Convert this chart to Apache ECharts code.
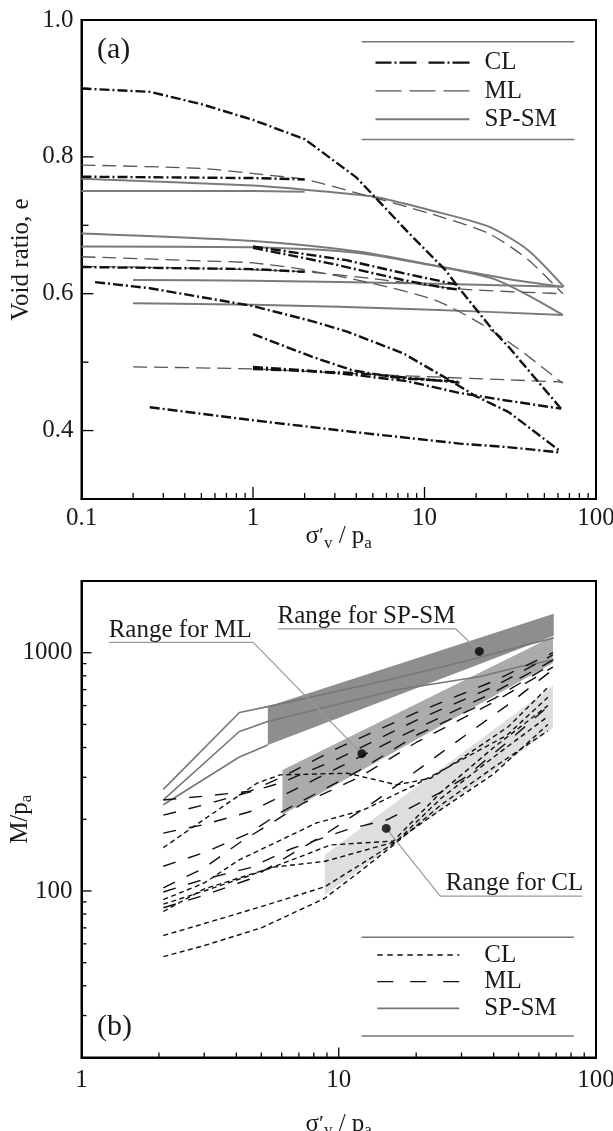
<!DOCTYPE html>
<html><head><meta charset="utf-8">
<script src="https://cdn.jsdelivr.net/npm/echarts@6/dist/echarts.min.js"></script>
<style>html,body{margin:0;padding:0;background:#fff}#c{width:613px;height:1131px}</style>
</head><body><div id="c"></div>
<script>
// ---------- Panel (a): void ratio e vs sigma'v/pa ----------
const aXLabels = [0.1, 1, 10, 100];
const aXMajorTicks = [1, 10];
const aXMinorTicks = [0.2,0.3,0.4,0.5,0.6,0.7,0.8,0.9,2,3,4,5,6,7,8,9,20,30,40,50,60,70,80,90];
const aYLabels = [0.4, 0.6, 0.8, 1.0];
const aYMajorTicks = [0.4, 0.6, 0.8];
const aYMinorTicks = [0.5, 0.7, 0.9];

const aCL1 = [[0.1,0.900],[0.25,0.895],[0.5,0.877],[1,0.854],[2,0.826],[4,0.770],[5.2,0.740],[8,0.690],[13.3,0.634],[15.7,0.610],[25,0.547],[31,0.522],[62.5,0.432]];
const aCL2 = [[0.12,0.617],[0.25,0.608],[0.5,0.595],[1,0.582],[2.2,0.560],[3.5,0.545],[7.5,0.513],[13.5,0.476],[20,0.450],[31,0.427],[62.5,0.369]];
const aCL3 = [[0.25,0.434],[1,0.415],[3.85,0.398],[16,0.381],[30,0.376],[62.5,0.368]];
const aCL4 = [[1,0.493],[2,0.488],[4,0.481],[8,0.472],[16,0.455],[30,0.444],[62.5,0.432]];
const aCL5 = [[1,0.490],[4,0.484],[10,0.475],[16,0.470]];
const aCL6 = [[1,0.541],[2.2,0.508],[3.8,0.488],[7.5,0.476],[15.6,0.472]];
const aCL7 = [[1,0.669],[3.5,0.649],[7.5,0.630],[15.7,0.613]];
const aCL8 = [[1,0.667],[2,0.652],[3.1,0.642],[7.5,0.620],[13.5,0.608],[16,0.606]];
const aCL9 = [[0.1,0.771],[1,0.769],[2,0.767]];
const aCL10 = [[0.1,0.639],[1,0.636],[2,0.632]];

const aML1 = [[0.1,0.788],[0.5,0.783],[1.25,0.773],[2,0.767],[3.8,0.749],[10.8,0.717],[23.7,0.688],[40,0.650],[64,0.600]];
const aML2 = [[0.1,0.654],[0.5,0.648],[1,0.645],[2,0.635],[5,0.615],[11.7,0.590],[21,0.557],[35,0.520],[64,0.469]];
const aML3 = [[0.1,0.640],[0.5,0.637],[2,0.632],[5,0.622],[16,0.607],[64,0.600]];
const aML4 = [[0.2,0.493],[1,0.490],[5,0.482],[31.5,0.474],[64,0.471]];

const aSP1 = [[0.1,0.768],[1,0.758],[2,0.752],[5,0.742],[10.8,0.722],[23.7,0.698],[40,0.664],[65,0.610]];
const aSP2 = [[0.1,0.750],[1,0.750],[2,0.749]];
const aSP3 = [[0.1,0.688],[1,0.677],[4,0.662],[12,0.640],[25,0.622],[40,0.598],[64,0.569]];
const aSP4 = [[0.1,0.669],[1,0.668],[4,0.660],[12,0.640],[30,0.622],[64,0.610]];
const aSP5 = [[0.2,0.620],[1,0.619],[10,0.615],[64,0.610]];
const aSP6 = [[0.2,0.586],[1,0.584],[10,0.577],[64,0.569]];

// ---------- Panel (b): M/pa vs sigma'v/pa ----------
const bXLabels = [1, 10, 100];
const bXMajorTicks = [10];
const bXMinorTicks = [2,3,4,5,6,7,8,9,20,30,40,50,60,70,80,90];
const bYLabels = [100, 1000];
const bYMajorTicks = [100, 1000];
const bYMinorTicks = [30,40,50,60,70,80,90,200,300,400,500,600,700,800,900];

const bCL1 = [[2.08,53],[3,59],[5,70],[8.8,93],[12,120],[16.6,158],[25,230],[40,330],[65,470]];
const bCL2 = [[2.08,65],[3,73],[5,86],[8.8,104],[12,128],[16.6,160],[25,245],[40,365],[65,540]];
const bCL3 = [[2.08,82],[3,102],[5.6,126],[8.8,133],[16.6,161],[25,220],[40,310],[65,500]];
const bCL4 = [[2.08,88],[3,100],[4.4,115],[6,130],[9.3,156],[16.3,162],[25,260],[40,400],[65,600]];
const bCL5 = [[2.08,92],[3,108],[4.1,135],[8.2,193],[12.5,219],[20,280],[30,355],[45,450],[65,650]];
const bCL6 = [[2.08,152],[3,200],[4.8,283],[5.9,307],[10.8,312],[13,298],[16.8,279],[22.7,297],[30,360],[45.7,490],[66,727]];

const bML1 = [[2.08,241],[3,250],[4.5,262],[6,300],[10,400],[20,560],[40,760],[68,1000]];
const bML2 = [[2.08,208],[3,230],[4.5,260],[6,285],[10,360],[20,520],[40,720],[68,980]];
const bML3 = [[2.08,175],[3,190],[4.5,215],[6,250],[10,330],[20,480],[40,680],[68,930]];
const bML4 = [[2.08,127],[3,145],[4.5,175],[6,215],[8.2,257],[12,320],[20,450],[40,640],[68,900]];
const bML5 = [[2.08,103],[3,125],[4.1,159],[7.3,234],[12,300],[20,420],[40,620],[68,870]];
const bML6 = [[2.08,99],[3,112],[4.5,125],[6.5,150],[10.8,181],[15.4,199],[25,260],[31,300],[45,420],[68,620]];
const bML7 = [[2.08,85],[3,96],[4.5,112],[6,135],[9,175],[14,240],[25,380],[45,600],[68,850]];

const bSP1 = [[2.08,267],[4.11,561],[5.3,594],[16.8,783],[30.6,919],[50.9,1063],[68.5,1153]];
const bSP2 = [[2.08,241],[4.11,467],[5.3,514],[16.8,699],[35.5,795],[50.9,876],[68.5,935]];
const bSP3 = [[2.08,230],[4.11,365],[5.3,410]];

const bBandSP = [[5.3,594],[68.5,1459],[68.5,1178],[5.3,410]];
const bBandML = [[6.04,322],[68,1171],[68,905],[6.04,209]];
const bBandCL = [[8.82,141.6],[68,727],[68,483],[8.82,96.2]];

const bDots = [[35.2,1013],[12.3,377],[15.3,183]];
const bLeadSP = [[5.8,1258],[28.5,1258],[35.2,1013]];
const bLeadML = [[1.276,1105],[4.65,1105],[12.3,377]];
const bLeadCL = [[88.4,95.2],[24.8,95.2],[15.3,183]];

// ---------- styles ----------
const FONT = "'Liberation Serif', 'Times New Roman', serif";
const TXT = '#1a1a1a';
const sA = {
  CL: {color:'#111', width:2.4, type:[10,3,2,3], smooth:0},
  ML: {color:'#555', width:1.3, type:[14,7], smooth:0.25},
  SP: {color:'#7a7a7a', width:2.0, type:'solid', smooth:0.25}
};
const sB = {
  CL: {color:'#111', width:1.4, type:[5,3.5]},
  ML: {color:'#111', width:1.4, type:[13,13]},
  SP: {color:'#777', width:1.6, type:'solid'}
};

function line(name, data, st, xi, yi, z) {
  return {type:'line', name, data, xAxisIndex:xi, yAxisIndex:yi, symbol:'none',
    smooth: st.smooth || false, silent:true, z:z||3, animation:false,
    lineStyle:{color:st.color, width:st.width, type:st.type}, itemStyle:{color:st.color}};
}
function band(poly, color, xi, yi) {
  return {type:'custom', xAxisIndex:xi, yAxisIndex:yi, silent:true, z:1, animation:false,
    data:[poly[0]],
    renderItem:(params, api) => ({type:'polygon',
      shape:{points: poly.map(p => api.coord(p))}, style:{fill:color}})};
}
// inward tick marks drawn through the axes' own scales
function xTicks(vals, xi, yi, yBase, len) {
  return {type:'custom', xAxisIndex:xi, yAxisIndex:yi, silent:true, z:8, animation:false, clip:false,
    data: vals.map(v => [v, yBase]),
    renderItem:(params, api) => {
      const p = api.coord([api.value(0), api.value(1)]);
      return {type:'line', shape:{x1:p[0], y1:p[1], x2:p[0], y2:p[1]-len}, style:{stroke:'#000', lineWidth:1.3}};
    }};
}
function yTicks(vals, xi, yi, xBase, len) {
  return {type:'custom', xAxisIndex:xi, yAxisIndex:yi, silent:true, z:8, animation:false, clip:false,
    data: vals.map(v => [xBase, v]),
    renderItem:(params, api) => {
      const p = api.coord([api.value(0), api.value(1)]);
      return {type:'line', shape:{x1:p[0], y1:p[1], x2:p[0]+len, y2:p[1]}, style:{stroke:'#000', lineWidth:1.3}};
    }};
}

const series = [];
[aSP1,aSP2,aSP3,aSP4,aSP5,aSP6].forEach(d => series.push(line('SP-SM', d, sA.SP, 0, 0, 2)));
[aML1,aML2,aML3,aML4].forEach(d => series.push(line('ML', d, sA.ML, 0, 0, 3)));
[aCL1,aCL2,aCL3,aCL4,aCL5,aCL6,aCL7,aCL8,aCL9,aCL10].forEach(d => series.push(line('CL', d, sA.CL, 0, 0, 4)));
series.push(xTicks(aXMajorTicks, 0, 0, 0.3, 12));
series.push(xTicks(aXMinorTicks, 0, 0, 0.3, 6));
series.push(yTicks(aYMajorTicks, 0, 0, 0.1, 12));
series.push(yTicks(aYMinorTicks, 0, 0, 0.1, 7));

series.push(band(bBandML, '#ababab', 1, 1));
series.push(band(bBandCL, '#dedede', 1, 1));
series.push(band(bBandSP, '#8e8e8e', 1, 1));
[bSP1,bSP2,bSP3].forEach(d => series.push(line('SP-SM ', d, sB.SP, 1, 1, 3)));
[bML1,bML2,bML3,bML4,bML5,bML6,bML7].forEach(d => series.push(line('ML ', d, sB.ML, 1, 1, 3)));
[bCL1,bCL2,bCL3,bCL4,bCL5,bCL6].forEach(d => series.push(line('CL ', d, sB.CL, 1, 1, 3)));
[bLeadSP,bLeadML,bLeadCL].forEach(d => series.push(line('lead', d, {color:'#9a9a9a', width:1.2, type:'solid'}, 1, 1, 5)));
series.push({type:'scatter', name:'dots', data:bDots, xAxisIndex:1, yAxisIndex:1, symbolSize:9,
  itemStyle:{color:'#000'}, silent:true, z:6, animation:false});
series.push(xTicks(bXMajorTicks, 1, 1, 20, 10));
series.push(xTicks(bXMinorTicks, 1, 1, 20, 5));
series.push(yTicks(bYMajorTicks, 1, 1, 1, 10));
series.push(yTicks(bYMinorTicks, 1, 1, 1, 5));

const fmt = v => String(+(+v).toPrecision(6));
const labelStyle = {fontSize:25, fontFamily:FONT, color:TXT};
const nameRich = {
  m:{fontSize:25, fontFamily:FONT, color:TXT},
  p:{fontSize:22, fontFamily:FONT, color:TXT},
  s:{fontSize:17, fontFamily:FONT, color:TXT, padding:[14,0,0,0]}
};
function mainAxis(type, grid, min, max, labels, margin, labelFmt, extra) {
  return Object.assign({type, gridIndex:grid, min, max, logBase:10, nameMoveOverlap:false,
    axisLine:{show:true, lineStyle:{color:'#000', width:2}},
    axisTick:{show:false},
    axisLabel:Object.assign({show:true, customValues:labels, margin, formatter:labelFmt}, labelStyle),
    splitLine:{show:false}, minorTick:{show:false}}, extra||{});
}
const xName = '{m|σ}{p|′}{s|v}{m| / p}{s|a}';

const option = {
  backgroundColor:'#fff',
  animation:false,
  grid:[
    {left:81.5, top:20, width:514.5, height:479, show:true, borderColor:'#000', borderWidth:2,
     containLabel:false, outerBoundsMode:'none'},
    {left:81.5, top:581, width:514.5, height:476.5, show:true, borderColor:'#000', borderWidth:2,
     containLabel:false, outerBoundsMode:'none'}
  ],
  xAxis:[
    mainAxis('log', 0, 0.1, 100, aXLabels, 7, fmt,
      {name:xName, nameLocation:'middle', nameGap:22, nameTextStyle:{rich:nameRich}}),
    mainAxis('log', 1, 1, 100, bXLabels, 10, fmt,
      {name:xName, nameLocation:'middle', nameGap:51, nameTextStyle:{rich:nameRich}})
  ],
  yAxis:[
    mainAxis('value', 0, 0.3, 1.0, aYLabels, 8, v => (+v).toFixed(1),
      {name:'Void ratio, e', nameLocation:'middle', nameGap:48,
       nameTextStyle:{fontSize:25, fontFamily:FONT, color:TXT}}),
    mainAxis('log', 1, 20, 2000, bYLabels, 9, fmt,
      {name:'{m|M/p}{s|a}', nameLocation:'middle', nameGap:46, nameTextStyle:{rich:nameRich}})
  ],
  legend:[
    {orient:'vertical', left:374.3, top:48.5, padding:0, itemGap:0, itemWidth:94, itemHeight:1,
     selectedMode:false,
     textStyle:{fontSize:25, fontFamily:FONT, color:TXT, lineHeight:28.3, padding:[0,0,0,10]},
     data:[
       {name:'CL', lineStyle:{color:'#111', width:2.4, type:[16,3,2,3,17,12]}},
       {name:'ML', lineStyle:{color:'#555', width:1.3, type:[26,8]}},
       {name:'SP-SM', lineStyle:{color:'#7a7a7a', width:2, type:'solid'}}
     ]},
    {orient:'vertical', left:376.5, top:941.6, padding:0, itemGap:0, itemWidth:82, itemHeight:1,
     selectedMode:false, formatter: n => n.trim(),
     textStyle:{fontSize:25, fontFamily:FONT, color:TXT, lineHeight:26.7, padding:[0,0,0,20]},
     data:[
       {name:'CL ', lineStyle:{color:'#111', width:1.4, type:[5.5,4.5]}},
       {name:'ML ', lineStyle:{color:'#111', width:1.4, type:[16,17]}},
       {name:'SP-SM ', lineStyle:{color:'#777', width:1.6, type:'solid'}}
     ]}
  ],
  graphic:[
    {type:'line', shape:{x1:361.6, y1:41.7, x2:574.5, y2:41.7}, style:{stroke:'#777', lineWidth:1.5}},
    {type:'line', shape:{x1:361.6, y1:139.5, x2:574.5, y2:139.5}, style:{stroke:'#777', lineWidth:1.5}},
    {type:'line', shape:{x1:361.6, y1:937.2, x2:574, y2:937.2}, style:{stroke:'#777', lineWidth:1.5}},
    {type:'line', shape:{x1:361.6, y1:1036, x2:574, y2:1036}, style:{stroke:'#777', lineWidth:1.5}},
    {type:'text', x:97, y:50, style:{text:'(a)', fontSize:30, fontFamily:FONT, fill:TXT, verticalAlign:'middle'}},
    {type:'text', x:97, y:1027, style:{text:'(b)', fontSize:30, fontFamily:FONT, fill:TXT, verticalAlign:'middle'}},
    {type:'text', x:277.6, y:616.3, z:10, style:{text:'Range for SP-SM', fontSize:25, fontFamily:FONT, fill:TXT, verticalAlign:'middle'}},
    {type:'text', x:108.7, y:630, z:10, style:{text:'Range for ML', fontSize:25, fontFamily:FONT, fill:TXT, verticalAlign:'middle'}},
    {type:'text', x:445.7, y:883, z:10, style:{text:'Range for CL', fontSize:25, fontFamily:FONT, fill:TXT, verticalAlign:'middle'}}
  ],
  series
};
const chart = echarts.init(document.getElementById('c'), null, {renderer:'canvas'});
chart.setOption(option);
</script></body></html>
